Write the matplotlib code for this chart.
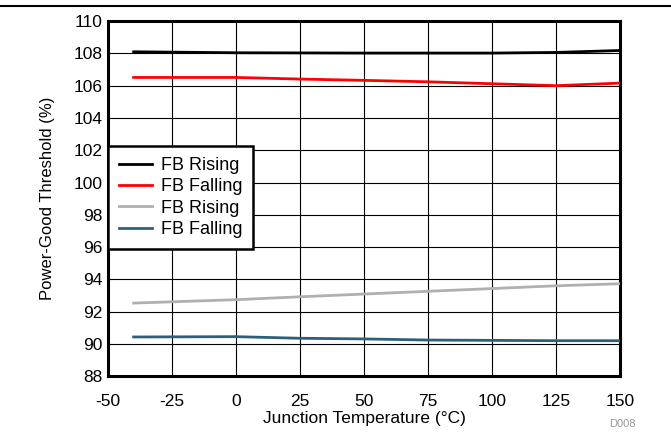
import numpy as np
import matplotlib.pyplot as plt
from matplotlib.lines import Line2D

plt.rcParams['font.family'] = ['Liberation Sans', 'DejaVu Sans']
plt.rcParams['axes.unicode_minus'] = False

# Data
temp = [-40, 0, 25, 50, 75, 100, 125, 150]
fb_rise_hi = [108.10, 108.04, 108.03, 108.02, 108.02, 108.02, 108.06, 108.18]
fb_fall_hi = [106.51, 106.51, 106.41, 106.33, 106.24, 106.12, 106.00, 106.16]
fb_rise_lo = [92.53, 92.74, 92.92, 93.09, 93.26, 93.43, 93.60, 93.73]
fb_fall_lo = [90.43, 90.45, 90.35, 90.31, 90.24, 90.22, 90.20, 90.20]

labels = ['FB Rising', 'FB Falling', 'FB Rising', 'FB Falling']
colors = ['#000000', '#FF0000', '#B0B0B0', '#2E5F7A']

fig = plt.figure(figsize=(6.71, 4.4), dpi=100)
ax = fig.add_axes([0.161, 0.145, 0.763, 0.807])

series = [fb_rise_hi, fb_fall_hi, fb_rise_lo, fb_fall_lo]
for vals, c, lab in zip(series, colors, labels):
    ax.plot(temp, vals, color=c, lw=2, label=lab, zorder=3)

ax.set_xlim(-50, 150)
ax.set_ylim(88, 110)
ax.set_xticks(np.arange(-50, 151, 25))
ax.set_yticks(np.arange(88, 111, 2))
ax.grid(True, color='black', lw=0.8)
ax.tick_params(length=0, labelsize=12.5)
ax.tick_params(axis='x', pad=13)
ax.tick_params(axis='y', pad=4)
for s in ax.spines.values():
    s.set_linewidth(2.2)

ax.set_xlabel('Junction Temperature (°C)', fontsize=12.5, labelpad=1)
ax.set_ylabel('Power-Good Threshold (%)', fontsize=12, labelpad=13)

leg = ax.legend(loc='upper left', bbox_to_anchor=(0.0, 0.649), fontsize=13,
                frameon=True, fancybox=False, borderaxespad=0,
                handlelength=1.8, labelspacing=0.24, borderpad=0.62,
                handletextpad=0.5)
leg.get_frame().set_edgecolor('black')
leg.get_frame().set_linewidth(1.8)
leg.get_frame().set_alpha(1)

fig.add_artist(Line2D([0, 1], [0.986, 0.986], color='black', lw=1.5,
                      transform=fig.transFigure))
fig.text(0.948, 0.036, 'D008', fontsize=8, color='#999999', ha='right',
         va='center')

fig.savefig('out.png', dpi=100)
